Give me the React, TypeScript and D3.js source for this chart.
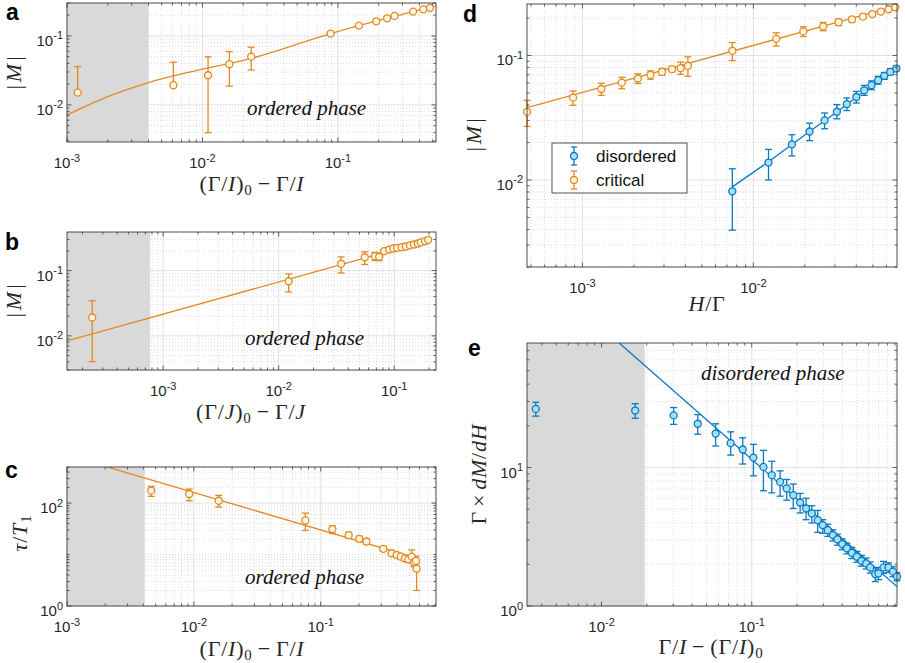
import React from "react";
import * as d3 from "d3";

// ---------------- Panel a ----------------
const aX = [0.0012, 0.0061, 0.011, 0.0158, 0.0229, 0.0883, 0.143, 0.192, 0.231, 0.262, 0.359, 0.427, 0.478];
const aY = [0.0151, 0.0193, 0.0269, 0.0389, 0.0501, 0.108, 0.141, 0.163, 0.18, 0.195, 0.225, 0.243, 0.255];
const aHi = [0.036, 0.0416, 0.0497, 0.0593, 0.0686, 0.114, 0.148, 0.17, 0.188, 0.203, 0.233, 0.251, 0.263];
const aLo: (number | null)[] = [null, null, 0.00397, 0.0187, 0.0321, 0.102, 0.134, 0.156, 0.172, 0.187, 0.217, 0.235, 0.247];
const aFitX = [0.001, 0.002, 0.004, 0.01, 0.0227, 0.0883, 0.53];
const aFitY = [0.00716, 0.0132, 0.0211, 0.0329, 0.0469, 0.108, 0.272];

// ---------------- Panel b ----------------
const bX = [2.43e-4, 0.0122, 0.0347, 0.0556, 0.068, 0.0741, 0.0819, 0.0905, 0.098, 0.106, 0.116, 0.126, 0.137, 0.148, 0.16, 0.17, 0.185, 0.197];
const bY = [0.0191, 0.0686, 0.127, 0.16, 0.166, 0.163, 0.198, 0.21, 0.218, 0.223, 0.228, 0.234, 0.243, 0.251, 0.26, 0.27, 0.282, 0.296];
const bHi = [0.0345, 0.0889, 0.162, 0.194, 0.19, 0.185, 0.21, 0.222, 0.23, 0.235, 0.24, 0.246, 0.255, 0.263, 0.272, 0.282, 0.294, 0.308];
const bLo: (number | null)[] = [0.00403, 0.047, 0.092, 0.124, 0.143, 0.142, 0.186, 0.198, 0.206, 0.211, 0.216, 0.222, 0.231, 0.239, 0.248, 0.258, 0.27, 0.284];
const bFitX = [1.47e-4, 0.21];
const bFitY = [0.00838, 0.3];

// ---------------- Panel c ----------------
const cX = [0.00461, 0.00918, 0.0157, 0.0757, 0.1236, 0.166, 0.201, 0.229, 0.311, 0.362, 0.397, 0.428, 0.461, 0.49, 0.521, 0.543, 0.563, 0.57];
const cY = [174, 150, 111, 45.9, 31.2, 23.8, 20.2, 17.9, 12.9, 10.6, 9.8, 9.1, 8.47, 8.1, 9.1, 7.08, 7.5, 5.3];
const cHi = [211, 187, 141, 63.8, 36.2, 27, 22.8, 20.2, 14.3, 11.7, 10.8, 10.1, 9.6, 9.3, 12.3, 8.6, 9.3, 7.2];
const cLo: (number | null)[] = [135, 111, 83.6, 29.4, 25.6, 20.8, 17.8, 15.8, 11.6, 9.6, 8.9, 8.2, 7.5, 7.0, 7.28, 5.8, 6.1, 2.0];
const cFitX = [0.00209, 0.57];
const cFitY = [500, 8.5];

// ---------------- Panel d ----------------
const dCritX = [4.74e-4, 8.81e-4, 0.00129, 0.0017, 0.00211, 0.0025, 0.00292, 0.00334, 0.00375, 0.00414, 0.00753, 0.0136, 0.0196, 0.0256, 0.0315, 0.0377, 0.0437, 0.0496, 0.0557, 0.0618, 0.0676];
const dCritY = [0.0352, 0.0458, 0.0538, 0.0605, 0.0653, 0.0698, 0.0738, 0.0776, 0.079, 0.0826, 0.109, 0.136, 0.156, 0.171, 0.185, 0.195, 0.205, 0.215, 0.225, 0.235, 0.244];
const dCritHi = [0.0436, 0.0519, 0.0598, 0.0668, 0.0713, 0.0752, 0.0785, 0.0815, 0.0883, 0.0975, 0.127, 0.152, 0.17, 0.184, 0.196, 0.204, 0.213, 0.222, 0.231, 0.24, 0.249];
const dCritLo: (number | null)[] = [0.0269, 0.0398, 0.0478, 0.054, 0.0595, 0.0644, 0.0693, 0.0738, 0.0705, 0.0681, 0.0911, 0.119, 0.142, 0.158, 0.174, 0.186, 0.197, 0.208, 0.219, 0.23, 0.239];
const dCritFitX = [4.74e-4, 0.0692];
const dCritFitY = [0.0381, 0.25];

const dDisX = [0.00753, 0.01226, 0.0168, 0.0213, 0.0261, 0.0308, 0.0352, 0.04, 0.0445, 0.0491, 0.0537, 0.0583, 0.0632, 0.0686];
const dDisY = [0.00811, 0.0138, 0.0193, 0.0245, 0.0301, 0.0353, 0.0407, 0.0464, 0.0525, 0.0577, 0.0633, 0.0686, 0.0738, 0.0785];
const dDisHi = [0.0123, 0.0176, 0.0231, 0.0286, 0.0345, 0.0403, 0.0456, 0.0515, 0.0575, 0.0625, 0.068, 0.073, 0.078, 0.082];
const dDisLo: (number | null)[] = [0.00395, 0.01, 0.0156, 0.0207, 0.0258, 0.031, 0.0361, 0.0415, 0.0478, 0.0531, 0.0588, 0.0643, 0.0697, 0.0752];
const dDisFitX = [0.00753, 0.01226, 0.0168, 0.0213, 0.0261, 0.0308, 0.04, 0.0491, 0.0583, 0.0692];
const dDisFitY = [0.0088, 0.014, 0.0193, 0.0245, 0.0299, 0.0352, 0.0462, 0.0574, 0.0684, 0.08];

// ---------------- Panel e ----------------
const eX = [0.00365, 0.01675, 0.0302, 0.0437, 0.0575, 0.0724, 0.0871, 0.1026, 0.1196, 0.136, 0.1545, 0.171, 0.189, 0.21, 0.23, 0.251, 0.275, 0.297, 0.321, 0.347, 0.372, 0.4, 0.43, 0.464, 0.501, 0.538, 0.578, 0.615, 0.664, 0.698, 0.754, 0.814, 0.871, 0.927];
const eY = [26.5, 25.8, 23.8, 20.7, 17.6, 15.0, 13.5, 11.8, 10.1, 8.81, 7.87, 7.06, 6.31, 5.59, 5.06, 4.66, 4.17, 3.84, 3.53, 3.25, 3.03, 2.8, 2.61, 2.42, 2.27, 2.12, 2.03, 1.9, 1.7, 1.72, 1.9, 1.9, 1.77, 1.63];
const eHi = [29.6, 28.9, 27.1, 24.1, 20.7, 18.1, 16.4, 14.7, 13.3, 11.1, 9.46, 8.2, 7.6, 6.5, 6.0, 5.3, 4.9, 4.2, 3.9, 3.55, 3.3, 3.05, 2.85, 2.65, 2.48, 2.32, 2.22, 2.08, 1.89, 1.9, 2.1, 2.05, 1.92, 1.74];
const eLo: (number | null)[] = [23.5, 22.7, 20.5, 17.4, 14.3, 12.3, 10.6, 8.71, 6.8, 6.56, 6.21, 5.81, 5.06, 4.7, 4.2, 3.98, 3.4, 3.35, 3.18, 2.95, 2.75, 2.55, 2.38, 2.2, 2.07, 1.94, 1.85, 1.73, 1.5, 1.55, 1.72, 1.75, 1.63, 1.52];
const eFitX = [0.0131, 0.927];
const eFitY = [79.3, 1.38];

// ---------------- Styles ----------------
const ORANGE = "#e38a1e";
const ORANGE_FACE = "#fff6ea";
const BLUE = "#0b78c2";
const BLUE_FACE = "#a3e1f7";
const AXIS = "#3a3a3a";
const SANS = "Liberation Sans, Arial, Helvetica, sans-serif";
const SERIF = "Liberation Serif, Times New Roman, serif";
const LABEL_SIZE = 22;

type Series = { x: number[]; y: number[]; hi: number[]; lo: (number | null)[]; color: string; face: string };
type Fit = { x: number[]; y: number[]; color: string; curve?: boolean };

type PanelProps = {
  id: string;
  left: number;
  top: number;
  width: number;
  height: number;
  xDomain: [number, number];
  yDomain: [number, number];
  xMajor: number[];
  yMajor: number[];
  shadeTo?: number;
  series: Series[];
  fits: Fit[];
};

function tickList(domain: [number, number], majors: number[]) {
  const out: { v: number; major: boolean }[] = [];
  const k0 = Math.floor(Math.log10(domain[0]));
  const k1 = Math.ceil(Math.log10(domain[1]));
  for (let k = k0; k <= k1; k++) {
    for (let m = 1; m <= 9; m++) {
      const v = m * Math.pow(10, k);
      if (v >= domain[0] * 0.9999 && v <= domain[1] * 1.0001) {
        out.push({ v, major: m === 1 && majors.includes(k) });
      }
    }
  }
  return out;
}

function LogPanel(p: PanelProps) {
  const { id, left, top, width, height } = p;
  const xs = d3.scaleLog().domain(p.xDomain).range([left, left + width]);
  const ys = d3.scaleLog().domain(p.yDomain).range([top + height, top]);
  const xt = tickList(p.xDomain, p.xMajor);
  const yt = tickList(p.yDomain, p.yMajor);
  const bottom = top + height;
  const right = left + width;
  const cap = 3.5;

  return (
    <g>
      <defs>
        <clipPath id={`clip-${id}`}>
          <rect x={left} y={top} width={width} height={height} />
        </clipPath>
      </defs>
      <rect x={left} y={top} width={width} height={height} fill="#ffffff" />
      {xt.map((t, i) => (
        <line
          key={`gx${i}`}
          x1={xs(t.v)}
          x2={xs(t.v)}
          y1={top}
          y2={bottom}
          stroke={t.major ? "#dedede" : "#cdcdcd"}
          strokeWidth={t.major ? 0.9 : 0.7}
          strokeDasharray={t.major ? undefined : "1 2"}
        />
      ))}
      {yt.map((t, i) => (
        <line
          key={`gy${i}`}
          x1={left}
          x2={right}
          y1={ys(t.v)}
          y2={ys(t.v)}
          stroke={t.major ? "#dedede" : "#cdcdcd"}
          strokeWidth={t.major ? 0.9 : 0.7}
          strokeDasharray={t.major ? undefined : "1 2"}
        />
      ))}
      {p.shadeTo !== undefined && (
        <rect x={left} y={top} width={xs(p.shadeTo) - left} height={height} fill="#d9d9d9" />
      )}
      <g clipPath={`url(#clip-${id})`}>
        {p.fits.map((f, i) => {
          const pts: [number, number][] = f.x.map((x, j) => [x, f.y[j]]);
          const line = d3
            .line<[number, number]>()
            .x((d) => xs(d[0]))
            .y((d) => ys(d[1]))
            .curve(f.curve ? d3.curveMonotoneX : d3.curveLinear);
          return <path key={`f${i}`} d={line(pts) || ""} fill="none" stroke={f.color} strokeWidth={1.3} />;
        })}
      </g>
      {p.series.map((s, si) => (
        <g key={`s${si}`}>
          {s.x.map((x, j) => {
            const cx = xs(x);
            const cy = ys(s.y[j]);
            const yh = ys(s.hi[j]);
            const lo = s.lo[j];
            const yl = lo === null ? cy : ys(lo);
            return (
              <g key={j} stroke={s.color} strokeWidth={1.3}>
                <line x1={cx} x2={cx} y1={yh} y2={yl} />
                <line x1={cx - cap} x2={cx + cap} y1={yh} y2={yh} />
                {lo !== null && <line x1={cx - cap} x2={cx + cap} y1={yl} y2={yl} />}
              </g>
            );
          })}
          {s.x.map((x, j) => (
            <circle key={`c${j}`} cx={xs(x)} cy={ys(s.y[j])} r={3.5} fill={s.face} stroke={s.color} strokeWidth={1.3} />
          ))}
        </g>
      ))}
      <rect x={left} y={top} width={width} height={height} fill="none" stroke={AXIS} strokeWidth={0.9} />
      {xt.map((t, i) => {
        const L = t.major ? 4.5 : 2.5;
        const x = xs(t.v);
        return (
          <g key={`tx${i}`} stroke={AXIS} strokeWidth={0.8}>
            <line x1={x} x2={x} y1={bottom} y2={bottom - L} />
            <line x1={x} x2={x} y1={top} y2={top + L} />
          </g>
        );
      })}
      {yt.map((t, i) => {
        const L = t.major ? 4.5 : 2.5;
        const y = ys(t.v);
        return (
          <g key={`ty${i}`} stroke={AXIS} strokeWidth={0.8}>
            <line x1={left} x2={left + L} y1={y} y2={y} />
            <line x1={right} x2={right - L} y1={y} y2={y} />
          </g>
        );
      })}
      {p.xMajor.map((k) => (
        <text key={`lx${k}`} x={xs(Math.pow(10, k))} y={bottom + 26} textAnchor="middle" fontFamily={SANS} fontSize={15} fill="#262626">
          10
          <tspan dy={-6.5} fontSize={11}>
            {k < 0 ? `-${-k}` : `${k}`}
          </tspan>
        </text>
      ))}
      {p.yMajor.map((k) => (
        <text key={`ly${k}`} x={left - 4} y={ys(Math.pow(10, k)) + 10} textAnchor="end" fontFamily={SANS} fontSize={15} fill="#262626">
          10
          <tspan dy={-6.5} fontSize={11}>
            {k < 0 ? `-${-k}` : `${k}`}
          </tspan>
        </text>
      ))}
    </g>
  );
}

function PhaseText({ x, y, text }: { x: number; y: number; text: string }) {
  return (
    <text x={x} y={y} fontFamily={SERIF} fontStyle="italic" fontSize={21} fill="#111">
      {text}
    </text>
  );
}

function AbsM({ x, y }: { x: number; y: number }) {
  return (
    <text transform={`translate(${x},${y}) rotate(-90)`} textAnchor="middle" fontFamily={SERIF} fontSize={LABEL_SIZE} fill="#262626">
      |<tspan dx={3} fontStyle="italic">M</tspan>
      <tspan dx={3}>|</tspan>
    </text>
  );
}

function GammaIx({ x, y, sym, reversed }: { x: number; y: number; sym: string; reversed?: boolean }) {
  if (reversed) {
    return (
      <text x={x} y={y} textAnchor="middle" fontFamily={SERIF} fontSize={LABEL_SIZE} letterSpacing={0.8} fill="#262626">
        Γ/<tspan fontStyle="italic">{sym}</tspan>
        <tspan dx={5}>−</tspan>
        <tspan dx={5}>(Γ/</tspan>
        <tspan fontStyle="italic">{sym}</tspan>)
        <tspan dy={4} fontSize={15}>0</tspan>
      </text>
    );
  }
  return (
    <text x={x} y={y} textAnchor="middle" fontFamily={SERIF} fontSize={LABEL_SIZE} letterSpacing={0.8} fill="#262626">
      (Γ/<tspan fontStyle="italic">{sym}</tspan>)
      <tspan dy={4} fontSize={15}>0</tspan>
      <tspan dy={-4} dx={5}>−</tspan>
      <tspan dx={5}>Γ/</tspan>
      <tspan fontStyle="italic">{sym}</tspan>
    </text>
  );
}

function Letter({ x, y, t }: { x: number; y: number; t: string }) {
  return (
    <text x={x} y={y} fontFamily={SANS} fontWeight="bold" fontSize={23} fill="#000">
      {t}
    </text>
  );
}

export default function App() {
  const seriesA: Series = { x: aX, y: aY, hi: aHi, lo: aLo, color: ORANGE, face: ORANGE_FACE };
  const seriesB: Series = { x: bX, y: bY, hi: bHi, lo: bLo, color: ORANGE, face: ORANGE_FACE };
  const seriesC: Series = { x: cX, y: cY, hi: cHi, lo: cLo, color: ORANGE, face: ORANGE_FACE };
  const seriesDc: Series = { x: dCritX, y: dCritY, hi: dCritHi, lo: dCritLo, color: ORANGE, face: ORANGE_FACE };
  const seriesDd: Series = { x: dDisX, y: dDisY, hi: dDisHi, lo: dDisLo, color: BLUE, face: BLUE_FACE };
  const seriesE: Series = { x: eX, y: eY, hi: eHi, lo: eLo, color: BLUE, face: BLUE_FACE };

  return (
    <svg width={905} height={663} style={{ position: "absolute", left: 0, top: 0, background: "#fff" }}>
      <rect x={0} y={0} width={905} height={663} fill="#fff" />
      {/* a */}
      <LogPanel
        id="a"
        left={67}
        top={3}
        width={369}
        height={139}
        xDomain={[1e-3, 0.53]}
        yDomain={[0.0029, 0.3]}
        xMajor={[-3, -2, -1]}
        yMajor={[-2, -1]}
        shadeTo={0.004}
        series={[seriesA]}
        fits={[{ x: aFitX, y: aFitY, color: ORANGE, curve: true }]}
      />
      <PhaseText x={247} y={115} text="ordered phase" />
      <AbsM x={21} y={73} />
      <GammaIx x={252} y={191} sym="I" />
      <Letter x={6} y={20} t="a" />

      {/* b */}
      <LogPanel
        id="b"
        left={67}
        top={232}
        width={369}
        height={138}
        xDomain={[1.47e-4, 0.23]}
        yDomain={[0.003, 0.39]}
        xMajor={[-3, -2, -1]}
        yMajor={[-2, -1]}
        shadeTo={7.7e-4}
        series={[seriesB]}
        fits={[{ x: bFitX, y: bFitY, color: ORANGE }]}
      />
      <PhaseText x={245} y={345} text="ordered phase" />
      <AbsM x={21} y={301} />
      <GammaIx x={251} y={419} sym="J" />
      <Letter x={5} y={250} t="b" />

      {/* c */}
      <LogPanel
        id="c"
        left={67}
        top={467}
        width={369}
        height={139}
        xDomain={[1e-3, 0.81]}
        yDomain={[1, 502]}
        xMajor={[-3, -2, -1]}
        yMajor={[0, 2]}
        shadeTo={0.0041}
        series={[seriesC]}
        fits={[{ x: cFitX, y: cFitY, color: ORANGE }]}
      />
      <PhaseText x={245} y={584} text="ordered phase" />
      <text transform="translate(27,533) rotate(-90)" textAnchor="middle" fontFamily={SERIF} fontSize={LABEL_SIZE} letterSpacing={0.8} fill="#262626">
        <tspan fontStyle="italic">τ</tspan>/<tspan fontStyle="italic">T</tspan>
        <tspan dy={4} fontSize={15}>1</tspan>
      </text>
      <GammaIx x={252} y={656} sym="I" />
      <Letter x={5} y={478} t="c" />

      {/* d */}
      <LogPanel
        id="d"
        left={527}
        top={4}
        width={370}
        height={263}
        xDomain={[4.74e-4, 0.0692]}
        yDomain={[0.002, 0.259]}
        xMajor={[-3, -2]}
        yMajor={[-2, -1]}
        series={[seriesDd, seriesDc]}
        fits={[
          { x: dCritFitX, y: dCritFitY, color: ORANGE },
          { x: dDisFitX, y: dDisFitY, color: BLUE },
        ]}
      />
      <AbsM x={481} y={135} />
      <text x={707} y={311} textAnchor="middle" fontFamily={SERIF} fontSize={LABEL_SIZE} letterSpacing={0.8} fill="#262626">
        <tspan fontStyle="italic">H</tspan>/Γ
      </text>
      <Letter x={463} y={22} t="d" />
      <g>
        <rect x={552} y={143} width={135} height={50} fill="#fff" stroke="#262626" strokeWidth={0.8} />
        <g stroke={BLUE} strokeWidth={1.3}>
          <line x1={574} x2={574} y1={147} y2={165} />
          <line x1={571} x2={577} y1={147} y2={147} />
          <line x1={571} x2={577} y1={165} y2={165} />
          <circle cx={574} cy={156} r={3.5} fill={BLUE_FACE} />
        </g>
        <g stroke={ORANGE} strokeWidth={1.3}>
          <line x1={574} x2={574} y1={171} y2={189} />
          <line x1={571} x2={577} y1={171} y2={171} />
          <line x1={571} x2={577} y1={189} y2={189} />
          <circle cx={574} cy={180} r={3.5} fill={ORANGE_FACE} />
        </g>
        <text x={596} y={162} fontFamily={SANS} fontSize={17} fill="#111">disordered</text>
        <text x={596} y={186} fontFamily={SANS} fontSize={17} fill="#111">critical</text>
      </g>

      {/* e */}
      <LogPanel
        id="e"
        left={527}
        top={343}
        width={370}
        height={263}
        xDomain={[0.00319, 0.927]}
        yDomain={[1, 79.3]}
        xMajor={[-2, -1]}
        yMajor={[0, 1]}
        shadeTo={0.0194}
        series={[seriesE]}
        fits={[{ x: eFitX, y: eFitY, color: BLUE }]}
      />
      <PhaseText x={701} y={380} text="disordered phase" />
      <text transform="translate(486,474) rotate(-90)" textAnchor="middle" fontFamily={SERIF} fontSize={LABEL_SIZE} letterSpacing={0.8} fill="#262626">
        Γ<tspan dx={4}>×</tspan>
        <tspan dx={4} fontStyle="italic">dM</tspan>/<tspan fontStyle="italic">dH</tspan>
      </text>
      <GammaIx x={711} y={654} sym="I" reversed />
      <Letter x={468} y={356} t="e" />
    </svg>
  );
}
